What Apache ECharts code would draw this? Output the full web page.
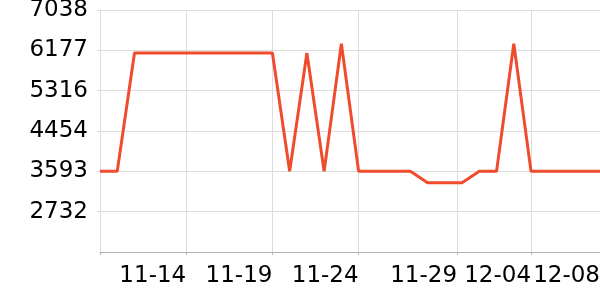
<!DOCTYPE html>
<html>
<head>
<meta charset="utf-8">
<script src="https://cdn.jsdelivr.net/npm/echarts@6/dist/echarts.min.js"></script>
<style>
html,body{margin:0;padding:0;background:#fff;}
#c{width:600px;height:300px;}
</style>
</head>
<body>
<div id="c"></div>
<script>
// Dates (daily) and values
var dates = ['2023-11-09','2023-11-10','2023-11-11','2023-11-12','2023-11-13','2023-11-14','2023-11-15','2023-11-16','2023-11-17','2023-11-18',
             '2023-11-19','2023-11-20','2023-11-21','2023-11-22','2023-11-23','2023-11-24','2023-11-25','2023-11-26','2023-11-27','2023-11-28',
             '2023-11-29','2023-11-30','2023-12-01','2023-12-02','2023-12-03','2023-12-04','2023-12-05','2023-12-06','2023-12-07','2023-12-08'];
var values = [3593,3593,6120,6120,6120,6120,6120,6120,6120,6120,
              6120,3593,6120,3593,6320,3593,3593,3593,3593,3350,
              3350,3350,3593,3593,6320,3593,3593,3593,3593,3593];
// x axis ticks (tick at start has no label)
var xTickDates = ['2023-11-09','2023-11-14','2023-11-19','2023-11-24','2023-11-29 17:00','2023-12-04','2023-12-08'];
var xLabelDates = ['2023-11-14','2023-11-19','2023-11-24','2023-11-29 17:00','2023-12-04','2023-12-08'];
var xLabels = ['11-14','11-19','11-24','11-29','12-04','12-08'];
// y axis
var yMin = 1871, yMax = 7038;
var yLabels = ['2732','3593','4454','5316','6177','7038'];

function ts(s){
  var p = s.split(' ');
  var d = p[0].split('-');
  var h = p[1] ? parseInt(p[1].split(':')[0],10) : 0;
  return Date.UTC(+d[0], +d[1]-1, +d[2], h, 0, 0);
}
var t0 = ts(dates[0]);
function dayOf(s){ return (ts(s) - t0) / 86400000; }
var seriesData = dates.map(function(d,i){ return [dayOf(d), values[i]]; });
var tickVals = xTickDates.map(dayOf);
var labelVals = xLabelDates.map(dayOf);
var yInterval = (yMax - yMin) / 6;

var chart = echarts.init(document.getElementById('c'), null, {renderer:'canvas'});
chart.setOption({
  animation: false,
  backgroundColor: '#fff',
  grid: {left: 100, right: 0, top: 10, bottom: 48, containLabel: false, outerBoundsMode: 'none'},
  xAxis: {
    type: 'value',
    min: 0,
    max: dayOf(dates[dates.length-1]),
    axisLine: {show: true, lineStyle: {color: '#b3b3b3', width: 1}},
    axisTick: {show: true, length: 3, customValues: tickVals, lineStyle: {color: '#b3b3b3'}},
    splitLine: {show: true, lineStyle: {color: '#dcdcdc', width: 1}},
    axisLabel: {
      customValues: labelVals,
      align: 'right',
      margin: 13,
      fontFamily: 'DejaVu Sans',
      fontSize: 23,
      color: '#000',
      formatter: function(v){
        for (var i = 0; i < labelVals.length; i++) {
          if (Math.abs(labelVals[i] - v) < 1e-6) return xLabels[i];
        }
        return '';
      }
    }
  },
  yAxis: {
    type: 'value',
    min: yMin,
    max: yMax,
    interval: yInterval,
    axisLine: {show: false},
    axisTick: {show: true, length: 3, lineStyle: {color: '#dcdcdc'}},
    splitLine: {show: true, lineStyle: {color: '#dcdcdc', width: 1}},
    axisLabel: {
      showMinLabel: false,
      margin: 12,
      verticalAlign: 'middle',
      padding: [5, 0, 0, 0],
      fontFamily: 'DejaVu Sans',
      fontSize: 23,
      color: '#000',
      formatter: function(v){
        var i = Math.round((v - yMin) / yInterval) - 1;
        return (i >= 0 && i < yLabels.length) ? yLabels[i] : '';
      }
    }
  },
  series: [{
    type: 'line',
    data: seriesData,
    showSymbol: false,
    symbol: 'none',
    lineStyle: {color: '#ef4b2c', width: 3},
    itemStyle: {color: '#ef4b2c'}
  }]
});
</script>
</body>
</html>
